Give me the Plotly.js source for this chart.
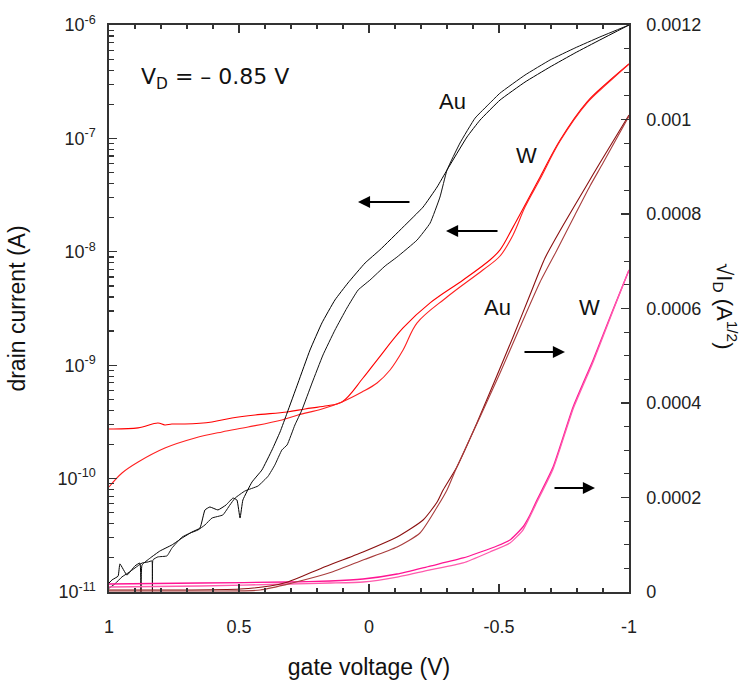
<!DOCTYPE html>
<html>
<head>
<meta charset="utf-8">
<script src="https://cdn.plot.ly/plotly-3.0.1.min.js"></script>
<style>html,body{margin:0;padding:0;background:#fff;}#chart{width:746px;height:680px;}</style>
</head>
<body>
<div id="chart"></div>
<script>
// ---- Au, log drain current (left axis), two sweep branches ----
const auLogA_V = [1.000,0.988,0.965,0.958,0.931,0.900,0.881,0.877,0.873,0.842,0.804,0.758,0.719,0.681,0.650,0.631,0.612,0.581,0.550,0.523,0.508,0.496,0.485,0.450,0.412,0.373,0.342,0.315,0.273,0.227,0.181,0.131,0.081,0.015,-0.042,-0.131,-0.208,-0.262,-0.300,-0.377,-0.427,-0.504,-0.600,-0.696,-0.792,-0.888,-1.000];
const auLogA_I = [1.20e-11,1.28e-11,1.38e-11,1.77e-11,1.41e-11,1.70e-11,1.80e-11,1.0e-11,1.73e-11,1.99e-11,2.30e-11,2.60e-11,2.99e-11,3.38e-11,3.67e-11,5.29e-11,5.62e-11,5.29e-11,5.85e-11,6.74e-11,6.48e-11,4.49e-11,6.48e-11,9.33e-11,1.19e-10,1.79e-10,2.58e-10,3.79e-10,6.97e-10,1.36e-9,2.36e-9,3.76e-9,5.31e-9,7.97e-9,1.04e-8,1.65e-8,2.48e-8,3.73e-8,5.26e-8,1.03e-7,1.45e-7,2.18e-7,3.14e-7,4.26e-7,5.66e-7,7.38e-7,1.0e-6];

const auLogB_V = [1.000,0.977,0.950,0.927,0.900,0.873,0.850,0.835,0.833,0.831,0.812,0.777,0.758,0.719,0.688,0.658,0.631,0.604,0.562,0.535,0.515,0.477,0.427,0.388,0.362,0.335,0.315,0.285,0.258,0.219,0.177,0.131,0.085,0.042,-0.004,-0.062,-0.108,-0.185,-0.235,-0.273,-0.300,-0.350,-0.408,-0.465,-0.504,-0.600,-0.696,-0.792,-0.888,-1.000];
const auLogB_I = [1.08e-11,1.18e-11,1.36e-11,1.47e-11,1.63e-11,1.80e-11,1.84e-11,1.88e-11,1.0e-11,1.92e-11,2.04e-11,2.08e-11,2.44e-11,3.05e-11,3.31e-11,3.52e-11,3.90e-11,4.49e-11,4.78e-11,5.85e-11,6.74e-11,7.78e-11,8.60e-11,1.05e-10,1.32e-10,1.79e-10,1.98e-10,2.97e-10,4.03e-10,6.97e-10,1.23e-9,2.04e-9,3.19e-9,4.60e-9,5.64e-9,7.50e-9,9.00e-9,1.27e-8,1.79e-8,3.04e-8,5.26e-8,9.11e-8,1.51e-7,2.05e-7,2.51e-7,3.62e-7,4.91e-7,6.27e-7,7.84e-7,1.0e-6];

// ---- W, log drain current (left axis) ----
const wLogA_V = [1.000,0.888,0.812,0.785,0.758,0.708,0.604,0.527,0.438,0.315,0.246,0.169,0.104,0.023,-0.031,-0.131,-0.235,-0.362,-0.465,-0.504,-0.554,-0.658,-0.735,-0.838,-0.915,-1.000];
const wLogA_I = [2.74e-10,2.80e-10,3.09e-10,2.97e-10,3.03e-10,3.03e-10,3.16e-10,3.42e-10,3.64e-10,3.87e-10,4.11e-10,4.37e-10,4.74e-10,7.71e-10,1.11e-9,2.13e-9,3.54e-9,5.64e-9,8.47e-9,1.04e-8,1.65e-8,4.57e-8,9.68e-8,2.09e-7,3.08e-7,4.53e-7];

const wLogB_V = [1.000,0.950,0.888,0.785,0.669,0.565,0.465,0.335,0.273,0.181,0.104,0.027,-0.031,-0.081,-0.131,-0.185,-0.300,-0.438,-0.504,-0.554,-0.600,-0.658,-0.735,-0.838,-0.915,-1.000];
const wLogB_I = [8.43e-11,1.12e-10,1.40e-10,1.86e-10,2.28e-10,2.58e-10,2.85e-10,3.29e-10,3.64e-10,4.11e-10,4.74e-10,5.80e-10,6.97e-10,9.07e-10,1.36e-9,2.36e-9,3.99e-9,6.91e-9,9.18e-9,1.41e-8,2.48e-8,4.39e-8,9.49e-8,2.05e-7,3.02e-7,4.53e-7];

// ---- Au, sqrt(I_D) (right axis) ----
const auSqA_V = [1.000,0.727,0.496,0.381,0.312,0.181,0.023,-0.108,-0.208,-0.262,-0.285,-0.338,-0.415,-0.485,-0.554,-0.619,-0.677,-0.754,-0.838,-0.888,-1.000];
const auSqA_S = [4.2e-6,4.2e-6,6.3e-6,1.27e-5,2.12e-5,5.08e-5,8.47e-5,1.164e-4,1.524e-4,1.905e-4,2.159e-4,2.646e-4,3.577e-4,4.487e-4,5.397e-4,6.286e-4,7.069e-4,7.831e-4,8.614e-4,9.079e-4,1.0095e-3];

const auSqB_V = [1.000,0.650,0.419,0.296,0.142,0.023,-0.108,-0.196,-0.262,-0.300,-0.338,-0.427,-0.504,-0.581,-0.658,-0.723,-0.792,-0.850,-0.900,-1.000];
const auSqB_S = [2.1e-6,2.1e-6,4.2e-6,1.90e-5,4.23e-5,6.77e-5,9.52e-5,1.249e-4,1.799e-4,2.159e-4,2.646e-4,3.704e-4,4.635e-4,5.608e-4,6.561e-4,7.238e-4,7.979e-4,8.593e-4,9.079e-4,1.0074e-3];

// ---- W, sqrt(I_D) (right axis) ----
const wSqA_V = [1.000,0.650,0.312,0.150,0.023,-0.108,-0.235,-0.362,-0.492,-0.542,-0.592,-0.619,-0.646,-0.708,-0.785,-0.862,-0.938,-1.000];
const wSqA_S = [1.69e-5,1.90e-5,2.12e-5,2.33e-5,2.75e-5,3.81e-5,5.50e-5,7.20e-5,9.74e-5,1.101e-4,1.376e-4,1.630e-4,1.947e-4,2.646e-4,3.915e-4,4.910e-4,5.968e-4,6.815e-4];

const wSqB_V = [1.000,0.650,0.312,0.150,0.023,-0.108,-0.235,-0.362,-0.465,-0.542,-0.592,-0.646,-0.708,-0.785,-0.862,-0.938,-1.000];
const wSqB_S = [1.06e-5,1.27e-5,1.69e-5,1.90e-5,2.12e-5,3.17e-5,4.66e-5,6.14e-5,8.47e-5,1.037e-4,1.312e-4,1.905e-4,2.603e-4,3.873e-4,4.868e-4,5.947e-4,6.815e-4];

// ---- tick labels ----
const xTickVals = [1, 0.5, 0, -0.5, -1];
const xTickText = ['1', '0.5', '0', '-0.5', '-1'];
const yTickVals = [1e-11, 1e-10, 1e-9, 1e-8, 1e-7, 1e-6];
const yTickText = ['10<sup>-11</sup>', '10<sup>-10</sup>', '10<sup>-9</sup>', '10<sup>-8</sup>', '10<sup>-7</sup>', '10<sup>-6</sup>'];
const y2TickVals = [0, 0.0002, 0.0004, 0.0006, 0.0008, 0.001, 0.0012];
const y2TickText = ['0', '0.0002', '0.0004', '0.0006', '0.0008', '0.001', '0.0012'];

const FONT = 'Liberation Sans, Arial, Helvetica, sans-serif';
const AX = '#333';

function ln(x, y, color, axis, w, sm) {
  return {x: x, y: y, type: 'scatter', mode: 'lines', yaxis: axis,
          line: {color: color, width: w || 1, shape: 'spline', smoothing: sm},
          hoverinfo: 'skip', showlegend: false};
}

const traces = [
  ln(wSqA_V, wSqA_S, '#ff1493', 'y2', 1.3, 0.5),
  ln(wSqB_V, wSqB_S, '#ff5aad', 'y2', 1.3, 0.5),
  ln(auSqA_V, auSqA_S, '#8b1010', 'y2', 1.1, 0.6),
  ln(auSqB_V, auSqB_S, '#a83c3c', 'y2', 1.1, 0.6),
  ln(wLogA_V, wLogA_I, '#ff0000', 'y', 1.1, 1.0),
  ln(wLogB_V, wLogB_I, '#ff2020', 'y', 1.1, 1.0),
  ln(auLogA_V, auLogA_I, '#000000', 'y', 1, 0.35),
  ln(auLogB_V, auLogB_I, '#111111', 'y', 1, 0.35)
];

function arrow(xp, yp, ax) {
  return {xref: 'paper', yref: 'paper', x: xp, y: yp, text: '', showarrow: true,
          ax: ax, ay: 0, arrowhead: 2, arrowsize: 1.1, arrowwidth: 2.2, arrowcolor: '#000',
          standoff: 0, startstandoff: 0, font: {size: 12}};
}
function label(xp, yp, txt, size, fam) {
  return {xref: 'paper', yref: 'paper', x: xp, y: yp, text: txt, showarrow: false,
          xanchor: 'center', yanchor: 'middle',
          font: {family: fam || FONT, size: size, color: '#111'}};
}

const layout = {
  width: 746, height: 680,
  margin: {l: 109, r: 117, t: 25, b: 88},
  paper_bgcolor: '#fff', plot_bgcolor: '#fff',
  showlegend: false,
  font: {family: FONT, color: '#222', size: 18},
  xaxis: {
    range: [1, -1], tickmode: 'array', tickvals: xTickVals, ticktext: xTickText,
    ticks: 'inside', ticklen: 8, tickwidth: 1.3, tickcolor: AX,
    minor: {dtick: 0.1, ticks: 'inside', ticklen: 4, tickwidth: 1.2, tickcolor: AX},
    showline: true, linecolor: AX, linewidth: 1.6, mirror: 'ticks',
    showgrid: false, zeroline: false, ticklabelstandoff: 18,
    tickfont: {family: FONT, size: 18, color: '#222'},
    title: {text: 'gate voltage (V)', standoff: 22, font: {family: FONT, size: 23, color: '#111'}}
  },
  yaxis: {
    type: 'log', range: [-11, -6], tickmode: 'array', tickvals: yTickVals, ticktext: yTickText,
    ticks: 'inside', ticklen: 8, tickwidth: 1.3, tickcolor: AX,
    minor: {dtick: 'D1', ticks: 'inside', ticklen: 5, tickwidth: 1.2, tickcolor: AX},
    showline: true, linecolor: AX, linewidth: 1.6, mirror: false,
    showgrid: false, zeroline: false, ticklabelstandoff: 8,
    tickfont: {family: FONT, size: 18, color: '#222'},
    title: {text: 'drain current (A)', standoff: 25, font: {family: FONT, size: 23, color: '#111'}}
  },
  yaxis2: {
    overlaying: 'y', side: 'right', range: [0, 0.0012],
    tickmode: 'array', tickvals: y2TickVals, ticktext: y2TickText,
    ticks: 'inside', ticklen: 8, tickwidth: 1.3, tickcolor: AX,
    minor: {dtick: 0.00005, ticks: 'inside', ticklen: 5, tickwidth: 1.2, tickcolor: AX},
    showline: true, linecolor: AX, linewidth: 1.6,
    showgrid: false, zeroline: false, ticklabelstandoff: 12,
    tickfont: {family: FONT, size: 18, color: '#222'}
  },
  annotations: [
    arrow(0.4788, 0.6878, 53),
    arrow(0.6481, 0.6367, 53),
    arrow(0.8769, 0.4233, -42),
    arrow(0.9346, 0.1834, -42),
    label(0.6615, 0.8642, 'Au', 22),
    label(0.8038, 0.7707, 'W', 22),
    label(0.7462, 0.5009, 'Au', 22),
    label(0.9231, 0.5009, 'W', 22),
    label(0.2038, 0.9065, 'V<sub>D</sub> = – 0.85 V', 22, 'DejaVu Sans, Verdana, sans-serif'),
    {xref: 'paper', yref: 'paper', x: 1.186, y: 0.5044, showarrow: false, textangle: 90,
     xanchor: 'center', yanchor: 'middle',
     text: '√I<sub>D</sub> (A<sup>1/2</sup>)', font: {family: FONT, size: 22, color: '#111'}}
  ]
};

Plotly.newPlot('chart', traces, layout, {staticPlot: true, displayModeBar: false});
</script>
</body>
</html>
